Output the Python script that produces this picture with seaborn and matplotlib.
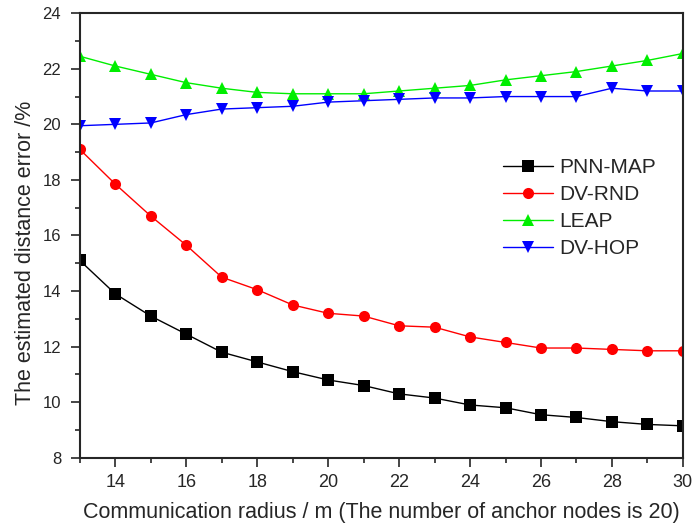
import numpy as np
import pandas as pd
import matplotlib
matplotlib.use("Agg")
import matplotlib.pyplot as plt
import seaborn as sns
from matplotlib.ticker import MultipleLocator

radius = [13, 14, 15, 16, 17, 18, 19, 20, 21, 22, 23, 24, 25, 26, 27, 28, 29, 30]
pnn_map = [15.1, 13.9, 13.1, 12.45, 11.8, 11.45, 11.1, 10.8, 10.6, 10.3,
           10.15, 9.9, 9.8, 9.55, 9.45, 9.3, 9.2, 9.15]
dv_rnd = [19.1, 17.85, 16.7, 15.65, 14.5, 14.05, 13.5, 13.2, 13.1, 12.75,
          12.7, 12.35, 12.15, 11.95, 11.95, 11.9, 11.85, 11.85]
leap = [22.45, 22.1, 21.8, 21.5, 21.3, 21.15, 21.1, 21.1, 21.1, 21.2,
        21.3, 21.4, 21.6, 21.75, 21.9, 22.1, 22.3, 22.55]
dv_hop = [19.95, 20.0, 20.05, 20.35, 20.55, 20.6, 20.65, 20.8, 20.85, 20.9,
          20.95, 20.95, 21.0, 21.0, 21.0, 21.3, 21.2, 21.2]

methods = ["PNN-MAP", "DV-RND", "LEAP", "DV-HOP"]
series = [pnn_map, dv_rnd, leap, dv_hop]

df = pd.concat(
    [pd.DataFrame({"radius": radius, "error": vals, "method": name})
     for name, vals in zip(methods, series)],
    ignore_index=True,
)

sns.set_style("ticks")
plt.rcParams["font.family"] = ["Liberation Sans", "DejaVu Sans"]

fig = plt.figure(figsize=(6.94, 5.28), dpi=100)
ax = fig.add_axes([0.115, 0.133, 0.869, 0.842])

palette = {"PNN-MAP": "#000000", "DV-RND": "#ff0000", "LEAP": "#00ee00", "DV-HOP": "#0000ff"}
markers = {"PNN-MAP": "s", "DV-RND": "o", "LEAP": "^", "DV-HOP": "v"}

sns.lineplot(data=df, x="radius", y="error", hue="method", style="method",
             hue_order=methods, style_order=methods, palette=palette,
             markers=markers, dashes=False, markersize=8, markeredgewidth=0,
             linewidth=1, ax=ax)

ax.set_xlim(13, 30)
ax.set_ylim(8, 24)
ax.xaxis.set_major_locator(MultipleLocator(2))
ax.xaxis.set_minor_locator(MultipleLocator(1))
ax.yaxis.set_major_locator(MultipleLocator(2))
ax.yaxis.set_minor_locator(MultipleLocator(1))
ax.set_xticks([14, 16, 18, 20, 22, 24, 26, 28, 30])
ax.tick_params(which="major", direction="out", length=6.5, width=1.2, labelsize=12.5)
ax.tick_params(axis="x", which="major", labelsize=13, pad=5)
ax.tick_params(axis="y", which="major", labelsize=12, pad=7)
ax.tick_params(which="minor", direction="out", length=3.5, width=1.2)
for sp in ax.spines.values():
    sp.set_linewidth(1.5)
    sp.set_visible(True)

ax.set_xlabel("Communication radius / m (The number of anchor nodes is 20)",
              fontsize=15.5, labelpad=8)
ax.set_ylabel("The estimated distance error /%", fontsize=15.5)
ax.yaxis.set_label_coords(-0.073, 0.46)

ax.legend(loc="upper left", bbox_to_anchor=(0.671, 0.716), frameon=False,
          fontsize=15, handlelength=2.4, labelspacing=0.38, handletextpad=0.3)

fig.savefig("out.png", dpi=100)
